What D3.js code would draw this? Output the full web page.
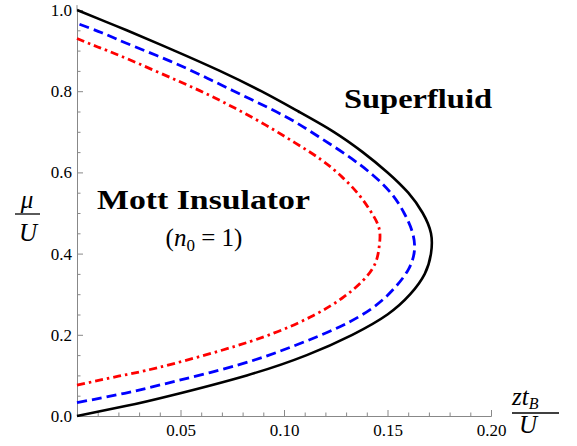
<!DOCTYPE html>
<html lang="en">
<head>
  <meta charset="UTF-8">
  <title>Mott lobe phase diagram</title>
  <script src="https://d3js.org/d3.v7.min.js"></script>
  <style>
    body { margin: 0; background: #fff; }
    svg { display: block; }
  </style>
</head>
<body>
  <svg width="577" height="446"></svg>

  <script>
    const muBlack = [0, 0.025, 0.05, 0.10, 0.15, 0.20, 0.25, 0.30, 0.35, 0.40, 0.45, 0.50,
                     0.55, 0.60, 0.65, 0.70, 0.75, 0.80, 0.85, 0.90, 0.95, 0.975, 1.00];
    const ztBlack = [0, 0.024, 0.045, 0.082, 0.111, 0.133, 0.150, 0.161, 0.168, 0.171, 0.171, 0.167,
                     0.160, 0.150, 0.138, 0.124, 0.107, 0.089, 0.069, 0.047, 0.024, 0.012, 0];

    const muBlue = [0.033, 0.056, 0.080, 0.126, 0.173, 0.220, 0.267, 0.313, 0.360, 0.407, 0.453, 0.500,
                    0.547, 0.593, 0.640, 0.687, 0.734, 0.780, 0.827, 0.874, 0.920, 0.944, 0.967];
    const ztBlue = [0, 0.023, 0.043, 0.078, 0.105, 0.127, 0.143, 0.153, 0.160, 0.163, 0.162, 0.158,
                    0.152, 0.143, 0.131, 0.117, 0.102, 0.084, 0.065, 0.045, 0.023, 0.012, 0];

    const muRed = [0.076, 0.098, 0.119, 0.162, 0.204, 0.247, 0.290, 0.333, 0.375, 0.418, 0.461, 0.503,
                   0.546, 0.589, 0.631, 0.674, 0.717, 0.759, 0.802, 0.845, 0.887, 0.909, 0.930];
    const ztRed = [0, 0.020, 0.039, 0.070, 0.095, 0.114, 0.128, 0.138, 0.144, 0.146, 0.146, 0.142,
                   0.136, 0.128, 0.118, 0.105, 0.091, 0.076, 0.059, 0.040, 0.021, 0.010, 0];

    const xMajor = [0.05, 0.10, 0.15, 0.20];
    const xMinor = d3.range(1, 20).map(i => i / 100).filter(v => Math.round(v * 100) % 5 !== 0);
    const yMajor = [0, 0.2, 0.4, 0.6, 0.8, 1.0];
    const yMinor = d3.range(1, 20).map(i => i / 20).filter(v => Math.round(v * 20) % 4 !== 0);

    const serif = "'Liberation Serif', 'Times New Roman', 'DejaVu Serif', serif";
    const axisGray = '#888';

    const svg = d3.select('svg').attr('font-family', serif);

    const x = d3.scaleLinear().domain([0, 0.2]).range([77, 491]);
    const y = d3.scaleLinear().domain([0, 1]).range([416, 10]);

    function styleAxis(g) {
      g.attr('font-family', serif).attr('font-size', 17);
      g.selectAll('path, line').attr('stroke', axisGray);
      g.selectAll('text').attr('fill', '#000');
    }

    // x axis, ticks pointing into the plot
    svg.append('g')
      .attr('transform', `translate(0,${y(0)})`)
      .call(d3.axisBottom(x).tickValues(xMinor).tickSizeInner(-3.5).tickSizeOuter(0).tickFormat(''))
      .call(styleAxis);
    svg.append('g')
      .attr('transform', `translate(0,${y(0)})`)
      .call(d3.axisBottom(x).tickValues(xMajor).tickSizeInner(-6).tickSizeOuter(0).tickPadding(8)
        .tickFormat(d3.format('.2f')))
      .call(styleAxis);

    // y axis
    svg.append('g')
      .attr('transform', `translate(${x(0)},0)`)
      .call(d3.axisLeft(y).tickValues(yMinor).tickSizeInner(-3.5).tickSizeOuter(0).tickFormat(''))
      .call(styleAxis);
    svg.append('g')
      .attr('transform', `translate(${x(0)},0)`)
      .call(d3.axisLeft(y).tickValues(yMajor).tickSizeInner(-6).tickSizeOuter(0).tickPadding(5)
        .tickFormat(d3.format('.1f')))
      .call(styleAxis);
    svg.append('line')
      .attr('x1', x(0)).attr('x2', x(0))
      .attr('y1', y(1)).attr('y2', y(1.012))
      .attr('stroke', axisGray);

    const line = d3.line()
      .x(d => x(d[1]))
      .y(d => y(d[0]))
      .curve(d3.curveNatural);

    const series = [
      { mu: muRed, zt: ztRed, color: '#ff0000', dash: '8 4 2.5 4' },
      { mu: muBlue, zt: ztBlue, color: '#0000ff', dash: '10 5' },
      { mu: muBlack, zt: ztBlack, color: '#000000', dash: null }
    ];

    series.forEach(s => {
      svg.append('path')
        .datum(d3.zip(s.mu, s.zt))
        .attr('fill', 'none')
        .attr('stroke', s.color)
        .attr('stroke-width', s.dash ? 2.8 : 2.6)
        .attr('stroke-dasharray', s.dash)
        .attr('d', line);
    });

    // region labels
    svg.append('text')
      .attr('x', 344).attr('y', 108)
      .attr('font-family', serif)
      .attr('font-size', 28).attr('font-weight', 'bold')
      .attr('textLength', 148).attr('lengthAdjust', 'spacingAndGlyphs')
      .text('Superfluid');

    svg.append('text')
      .attr('x', 97).attr('y', 209)
      .attr('font-family', serif)
      .attr('font-size', 27).attr('font-weight', 'bold')
      .attr('textLength', 213).attr('lengthAdjust', 'spacingAndGlyphs')
      .text('Mott Insulator');

    const occ = svg.append('text')
      .attr('x', 204).attr('y', 246)
      .attr('font-family', serif)
      .attr('text-anchor', 'middle')
      .attr('font-size', 25);
    occ.append('tspan').text('(');
    occ.append('tspan').attr('font-style', 'italic').text('n');
    occ.append('tspan').attr('font-size', 17).attr('dy', 5).text('0');
    occ.append('tspan').attr('dy', -5).text(' = 1)');

    // axis titles as stacked fractions
    const yt = svg.append('g').attr('font-family', serif);
    yt.append('text').attr('x', 27).attr('y', 208).attr('text-anchor', 'middle')
      .attr('font-size', 25).attr('font-style', 'italic').text('μ');
    yt.append('line').attr('x1', 15).attr('x2', 40).attr('y1', 214).attr('y2', 214)
      .attr('stroke', '#000').attr('stroke-width', 1.3);
    yt.append('text').attr('x', 28).attr('y', 241).attr('text-anchor', 'middle')
      .attr('font-size', 25).attr('font-style', 'italic').text('U');

    const xt = svg.append('g').attr('font-family', serif);
    const zt = xt.append('text').attr('x', 512).attr('y', 405)
      .attr('font-size', 25).attr('font-style', 'italic');
    zt.append('tspan').text('zt');
    zt.append('tspan').attr('font-size', 16).attr('dy', 4).text('B');
    xt.append('line').attr('x1', 512).attr('x2', 559).attr('y1', 413).attr('y2', 413)
      .attr('stroke', '#000').attr('stroke-width', 1.3);
    xt.append('text').attr('x', 528).attr('y', 433).attr('text-anchor', 'middle')
      .attr('font-size', 25).attr('font-style', 'italic').text('U');
  </script>
</body>
</html>
